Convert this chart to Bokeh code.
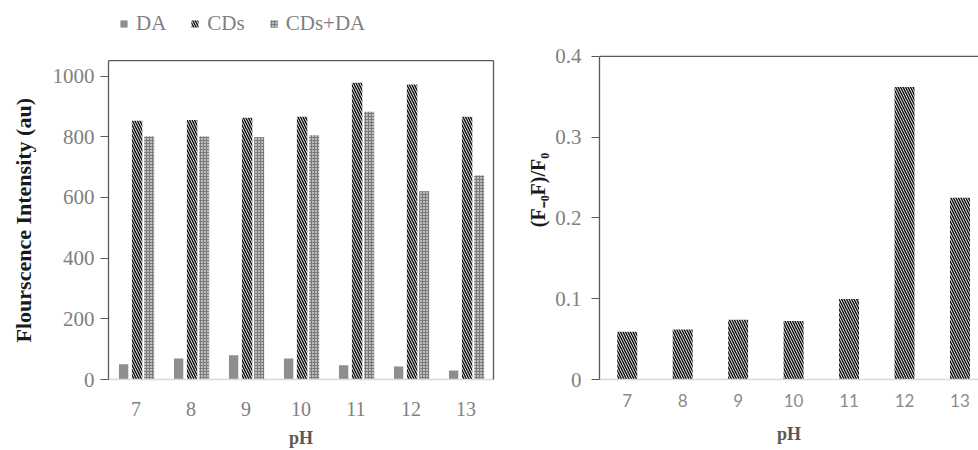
from bokeh.plotting import figure
from bokeh.models import (Legend, LegendItem, LinearAxis, FixedTicker, Range1d,
                          ColumnDataSource, Span)
from bokeh.transform import dodge
from bokeh.layouts import row
from bokeh.embed import file_html
from bokeh.resources import INLINE

# ---------------- data ----------------
ph = [7, 8, 9, 10, 11, 12, 13]
da = [50, 69, 80, 69, 47, 43, 30]
cds = [853, 855, 863, 866, 978, 972, 866]
cds_da = [801, 801, 798, 805, 882, 620, 672]
quench = [0.059, 0.062, 0.074, 0.0725, 0.0995, 0.362, 0.225]
y1_ticks = [0, 200, 400, 600, 800, 1000]
y1_max = 1051
y2_ticks = [0, 0.1, 0.2, 0.3, 0.4]
y2_max = 0.4
x_ticks = ph

SERIF = "Liberation Serif"
SANS = "Lato"
TICK_GRAY = "#808080"
AXIS_DARK = "#595959"
AXIS_LIGHT = "#d9d9d9"

src = ColumnDataSource(dict(ph=ph, da=da, cds=cds, cds_da=cds_da, q=quench))


def frame_line(p, side, bounds="auto"):
    ax = LinearAxis(bounds=bounds)
    ax.axis_line_color = AXIS_DARK
    ax.axis_line_width = 1.3
    ax.major_tick_line_color = None
    ax.minor_tick_line_color = None
    ax.major_tick_out = 0
    ax.major_label_standoff = 0
    ax.major_label_text_font_size = "0px"
    ax.ticker = FixedTicker(ticks=[])
    p.add_layout(ax, side)


def style_common(p):
    p.xgrid.grid_line_color = None
    p.ygrid.grid_line_color = None
    p.outline_line_color = None
    p.background_fill_color = "white"
    p.border_fill_color = "white"
    # y axis
    p.yaxis.axis_line_color = AXIS_DARK
    p.yaxis.axis_line_width = 1.3
    p.yaxis.major_tick_line_color = AXIS_DARK
    p.yaxis.major_tick_out = 8
    p.yaxis.major_tick_in = 0
    p.yaxis.minor_tick_line_color = None
    p.yaxis.major_label_text_font = SERIF
    p.yaxis.major_label_text_color = TICK_GRAY
    p.yaxis.axis_label_text_font = SERIF
    p.yaxis.axis_label_text_font_style = "bold"
    p.yaxis.axis_label_text_color = "#1a1a1a"
    # x axis
    p.xaxis.axis_line_color = AXIS_LIGHT
    p.xaxis.axis_line_width = 1.3
    p.xaxis.major_tick_line_color = None
    p.xaxis.minor_tick_line_color = None
    p.xaxis.ticker = FixedTicker(ticks=x_ticks)
    p.xaxis.major_label_text_color = TICK_GRAY
    p.xaxis.axis_label_text_font = SERIF
    p.xaxis.axis_label_text_font_style = "bold"
    p.xaxis.axis_label_text_color = "#595959"
    p.xaxis.axis_label_text_font_size = "18px"


HATCH = dict(hatch_pattern="\\", hatch_color="#111111", hatch_scale=5, hatch_weight=1.5)

# Both frames reach the top of the canvas (the row aligns them); the visible
# top edges are drawn as spans at y1_max / y2_max.

# ---------------- left chart ----------------
p1 = figure(width=520, height=450, x_range=Range1d(6.5, 13.5), y_range=Range1d(0, 1249),
            output_backend="svg", toolbar_location=None,
            min_border_left=108, min_border_right=27, min_border_top=0, min_border_bottom=70)
style_common(p1)
p1.yaxis.bounds = (0, y1_max)

r_da = p1.vbar(x=dodge("ph", -0.225, range=p1.x_range), top="da", width=0.17, source=src,
               fill_color="#8e8e8e", line_color=None)
r_cds = p1.vbar(x=dodge("ph", 0.02, range=p1.x_range), top="cds", width=0.19, source=src,
                fill_color="white", line_color=None, **HATCH)
r_cdsda = p1.vbar(x=dodge("ph", 0.24, range=p1.x_range), top="cds_da", width=0.18, source=src,
                  fill_color="#bdbdbd", line_color=None,
                  hatch_pattern="+", hatch_color="#7a7a7a", hatch_scale=3, hatch_weight=1)

p1.yaxis.ticker = FixedTicker(ticks=y1_ticks)
p1.yaxis.major_label_text_font_size = "21px"
p1.yaxis.major_label_standoff = 6
# trailing no-break spaces re-centre the label on the visible box (frame reaches the top)
p1.yaxis.axis_label = "Flourscence Intensity (au)" + "\u00a0" * 11
p1.yaxis.axis_label_text_font_size = "22px"
p1.yaxis.axis_label_standoff = 14
p1.xaxis.major_label_text_font = SERIF
p1.xaxis.major_label_text_font_size = "20px"
p1.xaxis.major_label_standoff = 16
p1.xaxis.axis_label = "pH"
p1.xaxis.axis_label_standoff = 9
p1.add_layout(Span(location=y1_max, dimension="width", line_color=AXIS_DARK, line_width=1.3))
frame_line(p1, "right", bounds=(0, y1_max))

legend = Legend(items=[LegendItem(label="DA", renderers=[r_da]),
                       LegendItem(label="CDs", renderers=[r_cds]),
                       LegendItem(label="CDs+DA", renderers=[r_cdsda])],
                orientation="horizontal", location=(11, 343),
                padding=0, margin=0, spacing=24, label_standoff=8,
                glyph_width=9, glyph_height=9,
                label_text_font=SERIF, label_text_font_size="21px",
                label_text_color="#7f7f7f",
                border_line_color=None, background_fill_alpha=0)
p1.add_layout(legend, "center")

# ---------------- right chart ----------------
p2 = figure(width=458, height=450, x_range=Range1d(6.5, 13.334), y_range=Range1d(0, 0.4691),
            output_backend="svg", toolbar_location=None,
            min_border_left=79, min_border_right=0, min_border_top=0, min_border_bottom=70)
style_common(p2)
p2.yaxis.bounds = (0, y2_max)
p2.vbar(x="ph", top="q", width=0.36, source=src, fill_color="white", line_color=None, **HATCH)
p2.yaxis.ticker = FixedTicker(ticks=y2_ticks)
p2.yaxis.major_label_overrides = {0: "0"}
p2.yaxis.major_label_text_font_size = "21px"
p2.yaxis.major_label_standoff = 10
p2.yaxis.axis_label = "(F₋₀F)/F₀"
p2.yaxis.axis_label_text_font_size = "20px"
p2.yaxis.axis_label_standoff = 3
p2.xaxis.major_label_text_font = SANS
p2.xaxis.major_label_text_font_size = "17px"
p2.xaxis.major_label_text_color = "#8c8c8c"
p2.xaxis.major_label_standoff = 8
p2.xaxis.axis_label = "pH"
p2.xaxis.axis_label_standoff = 14
p2.add_layout(Span(location=y2_max, dimension="width", line_color=AXIS_DARK, line_width=1.3))

layout = row(p1, p2)
open("out.html", "w").write(file_html(layout, INLINE))
